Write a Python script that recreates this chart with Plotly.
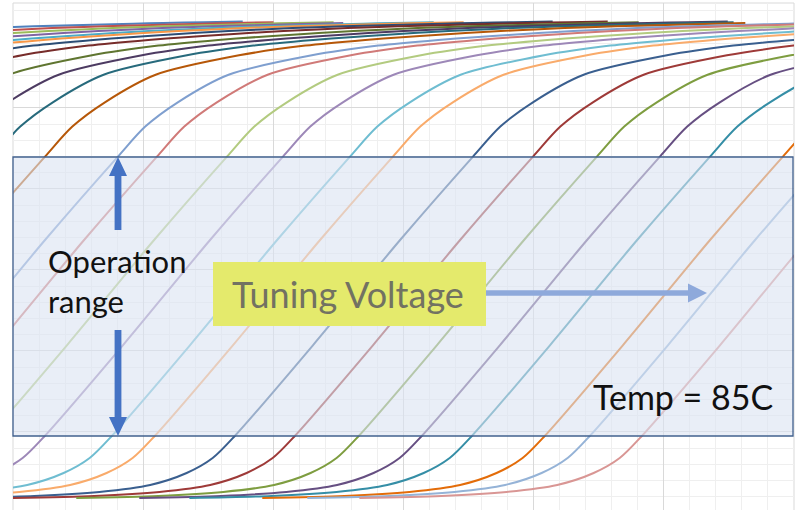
import plotly.graph_objects as go

# ---------------- data ----------------
# Shape of one tuning curve: offset from its crossing of the upper range limit, and level
BASE_DX = [-4.0, -3.37, -2.87, -2.48, -2.2, -2.0, -1.83, -1.23, -0.56, 0.0, 0.21, 0.46,
           0.85, 1.49, 2.0, 2.46, 2.77, 3.0, 3.23, 3.5, 3.76, 3.99, 4.23, 4.53, 4.84,
           5.15, 5.38, 5.69, 5.99, 6.38]
BASE_Y = [0.185, 0.21, 0.26, 0.346, 0.494, 0.679, 0.951, 2.07, 3.37, 4.40, 4.77, 5.07,
          5.41, 5.65, 5.77, 5.84, 5.877, 5.901, 5.926, 5.951, 5.969, 5.988, 6.0, 6.015, 6.028,
          6.041, 6.049, 6.059, 6.069, 6.08]

# Where each curve crosses the upper limit of the operation range (x units)
CROSS = [-4.225, -3.688, -3.227, -2.843, -2.458, -2.228, -1.844, -1.421, -0.883, -0.499,
         -0.154, 0.246, 0.806, 1.106, 1.644, 2.074, 2.589, 2.919, 3.534, 3.995, 4.486,
         4.970, 5.355, 5.915, 6.261, 6.661]
# Last x value of each curve's data
END = [2.0, 2.3, 2.6, 2.8, 3.28, 3.7, 4.15, 4.61, 5.01, 5.5, 5.7, 5.91,
       9, 9, 9, 9, 9, 9, 9, 9, 9, 9, 9, 9, 9, 9]

COLORS = ['#4F81BD', '#C0504D', '#9BBB59', '#8064A2', '#4BACC6', '#F79646',
          '#2C4D75', '#772C2A', '#5F7530', '#4D3B62', '#276A7C', '#B65708',
          '#7F9FCF', '#D07A78', '#B3CB80', '#9D88B8', '#6FBDD1', '#F9AB6B',
          '#3A5F8F', '#9E3A38', '#7E9D40', '#664F82', '#358EA6', '#E36C09',
          '#95B3D7', '#D99694']

X_RANGE = [0, 6]
Y_RANGE = [0.037, 6.296]

TEXT_RANGE = ["Operation", "range"]
TEXT_TUNING = "Tuning Voltage"
TEXT_TEMP = "Temp = 85C"

# ---------------- figure ----------------
W, H = 799, 510
ML, MR, MT, MB = 13, 5, 3, 0
PW, PH = W - ML - MR, H - MT - MB


def px(x):
    return (x - ML) / PW


def py(y):
    return 1 - (y - MT) / PH


fig = go.Figure()
for c, e, col in zip(CROSS, END, COLORS):
    xs, ys = [], []
    for d, yv in zip(BASE_DX, BASE_Y):
        if c + d <= e:
            xs.append(c + d)
            ys.append(yv)
    fig.add_trace(go.Scatter(x=xs, y=ys, mode='lines', hoverinfo='skip',
                             line=dict(color=col, width=2, shape='spline', smoothing=0.8)))


def poly(pts):
    s = 'M ' + ' L '.join(f'{px(a):.5f},{py(b):.5f}' for a, b in pts) + ' Z'
    return s


shapes = []
# plot-area border
shapes.append(dict(type='rect', xref='paper', yref='paper', x0=0, x1=1, y0=-0.05, y1=1,
                   line=dict(color='#d9d9d9', width=1), fillcolor='rgba(0,0,0,0)', layer='below'))
# operation range box
shapes.append(dict(type='rect', xref='paper', yref='paper', x0=px(13), x1=px(793),
                   y0=py(436), y1=py(157), fillcolor='rgba(218,227,242,0.6)',
                   line=dict(color='#41618F', width=1.3), layer='above'))
# up arrow
shapes.append(dict(type='path', xref='paper', yref='paper', layer='above',
                   path=poly([(118, 157), (127, 176), (121.4, 176), (121.4, 230),
                              (114.6, 230), (114.6, 176), (109, 176)]),
                   fillcolor='#4472C4', line=dict(width=0)))
# down arrow
shapes.append(dict(type='path', xref='paper', yref='paper', layer='above',
                   path=poly([(118, 436), (127, 417), (121.4, 417), (121.4, 330),
                              (114.6, 330), (114.6, 417), (109, 417)]),
                   fillcolor='#4472C4', line=dict(width=0)))
# tuning voltage box
shapes.append(dict(type='rect', xref='paper', yref='paper', x0=px(213), x1=px(486),
                   y0=py(326), y1=py(262), fillcolor='#E4EA6C', line=dict(width=0),
                   layer='above'))
# right arrow
shapes.append(dict(type='path', xref='paper', yref='paper', layer='above',
                   path=poly([(486, 290.3), (688, 290.3), (688, 283.5), (707, 293),
                              (688, 302.5), (688, 295.7), (486, 295.7)]),
                   fillcolor='#8EA9DB', line=dict(width=0)))

annotations = [
    dict(xref='paper', yref='paper', x=px(46), y=py(281), xanchor='left', yanchor='middle',
         text='<br>'.join(TEXT_RANGE), showarrow=False, align='left',
         font=dict(family='Lato', size=31, color='#111111')),
    dict(xref='paper', yref='paper', x=px(348), y=py(294), xanchor='center', yanchor='middle',
         text=TEXT_TUNING, showarrow=False,
         font=dict(family='Lato', size=36, color='#727262')),
    dict(xref='paper', yref='paper', x=px(683), y=py(396), xanchor='center', yanchor='middle',
         text=TEXT_TEMP, showarrow=False,
         font=dict(family='Lato', size=34, color='#111111')),
]

axis_common = dict(showticklabels=False, ticks='', zeroline=False, showline=False,
                   showgrid=True, gridcolor='#d9d9d9', gridwidth=1, tick0=0, dtick=1,
                   fixedrange=True)
fig.update_layout(
    width=W, height=H,
    margin=dict(l=ML, r=MR, t=MT, b=MB, pad=0),
    paper_bgcolor='white', plot_bgcolor='white',
    showlegend=False,
    xaxis=dict(range=X_RANGE, minor=dict(dtick=0.2, showgrid=True, gridcolor='#efefef'),
               **axis_common),
    yaxis=dict(range=Y_RANGE, minor=dict(dtick=0.2, showgrid=True, gridcolor='#efefef'),
               **axis_common),
    shapes=shapes,
    annotations=annotations,
)

fig.write_html("out.html", config=dict(displayModeBar=False),
               post_script="document.body.style.margin='0px';document.body.style.overflow='hidden';")
